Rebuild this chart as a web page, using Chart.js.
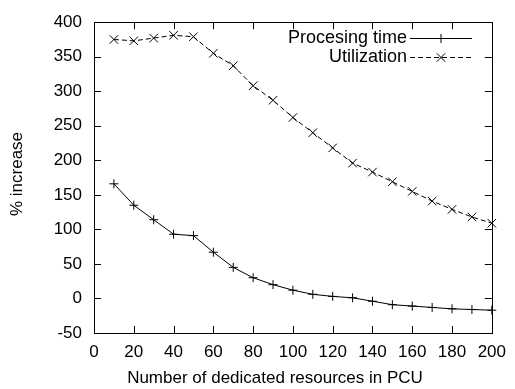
<!DOCTYPE html>
<html lang="en">
<head>
    <meta charset="UTF-8">
    <title>% increase vs dedicated resources in PCU</title>
    <style>
        body {
            margin: 0;
            padding: 0;
            background-color: #ffffff;
        }

        .chart-container {
            position: relative;
            width: 515px;
            height: 389px;
        }
    </style>
</head>
<body>

<div class="chart-container">
    <canvas id="pcuChart"></canvas>
</div>

<script src="https://cdn.jsdelivr.net/npm/chart.js"></script>

<script>
    // Datos
    const resources = [10, 20, 30, 40, 50, 60, 70, 80, 90, 100, 110, 120, 130, 140, 150, 160, 170, 180, 190, 200];
    const processingTime = [166, 135, 114, 93, 91, 67, 45, 30, 20, 12, 6, 3, 1, -4, -9, -11, -13, -15, -16, -17];
    const utilization = [375, 373, 377, 381, 379, 355, 337, 308, 287, 262, 240, 218, 196, 183, 169, 155, 141, 129, 118, 109];
    const seriesNames = ['Procesing time', 'Utilization'];
    const xTitle = 'Number of dedicated resources in PCU';
    const yTitle = '% increase';

    const FONT = 'Liberation Sans, Arial, Helvetica, sans-serif';
    const FONT_SIZE = 17;

    function toPoints(values) {
        return resources.map((x, i) => ({ x: x, y: values[i] }));
    }

    // Marco, ticks hacia dentro, leyenda y titulos al estilo gnuplot
    const gnuplotFrame = {
        id: 'gnuplotFrame',
        afterDraw(chart) {
            const ctx = chart.ctx;
            const area = chart.chartArea;
            const xs = chart.scales.x;
            const ys = chart.scales.y;
            const tick = 7;

            ctx.save();
            ctx.strokeStyle = '#000';
            ctx.lineWidth = 1;
            ctx.setLineDash([]);

            ctx.beginPath();
            xs.ticks.forEach(t => {
                const px = Math.round(xs.getPixelForValue(t.value)) + 0.5;
                ctx.moveTo(px, area.bottom);
                ctx.lineTo(px, area.bottom - tick);
                ctx.moveTo(px, area.top);
                ctx.lineTo(px, area.top + tick);
            });
            ys.ticks.forEach(t => {
                const py = Math.round(ys.getPixelForValue(t.value)) + 0.5;
                ctx.moveTo(area.left, py);
                ctx.lineTo(area.left + tick, py);
                ctx.moveTo(area.right, py);
                ctx.lineTo(area.right - tick, py);
            });
            ctx.stroke();

            ctx.strokeRect(Math.round(area.left) + 0.5, Math.round(area.top) + 0.5,
                Math.round(area.right - area.left), Math.round(area.bottom - area.top));

            // Leyenda
            ctx.font = '18px ' + FONT;
            ctx.fillStyle = '#000';
            ctx.textAlign = 'right';
            ctx.textBaseline = 'middle';
            const textRight = 407;
            const lineStart = 410;
            const lineEnd = 472;
            const rows = [38, 57];
            chart.data.datasets.forEach((ds, i) => {
                const y = rows[i] + 0.5;
                ctx.fillText(ds.label, textRight, rows[i]);
                ctx.setLineDash(ds.borderDash || []);
                ctx.beginPath();
                ctx.moveTo(lineStart, y);
                ctx.lineTo(lineEnd, y);
                ctx.stroke();
                ctx.setLineDash([]);
                Chart.helpers.drawPoint(ctx, {
                    pointStyle: ds.pointStyle,
                    radius: ds.pointRadius,
                    borderWidth: 1
                }, (lineStart + lineEnd) / 2, y);
            });

            // Titulos de los ejes
            ctx.font = FONT_SIZE + 'px ' + FONT;
            ctx.textAlign = 'center';
            ctx.fillText(xTitle, 275, 378);
            ctx.translate(17, 174);
            ctx.rotate(-Math.PI / 2);
            ctx.fillText(yTitle, 0, 0);
            ctx.restore();
        }
    };

    const ctx = document.getElementById('pcuChart').getContext('2d');
    const pcuChart = new Chart(ctx, {
        type: 'line',
        data: {
            datasets: [{
                label: seriesNames[0],
                data: toPoints(processingTime),
                borderColor: '#000',
                backgroundColor: '#000',
                borderWidth: 1,
                pointStyle: 'cross',
                pointRadius: 4.5,
                pointBorderWidth: 1,
                pointBorderColor: '#000',
                tension: 0,
                clip: false
            }, {
                label: seriesNames[1],
                data: toPoints(utilization),
                borderColor: '#000',
                backgroundColor: '#000',
                borderWidth: 1,
                borderDash: [5, 3],
                pointStyle: 'crossRot',
                pointRadius: 6,
                pointBorderWidth: 1,
                pointBorderColor: '#000',
                tension: 0,
                clip: false
            }]
        },
        options: {
            responsive: true,
            maintainAspectRatio: false,
            animation: false,
            layout: {
                padding: { top: 20, right: 21, left: 0, bottom: 0 }
            },
            plugins: {
                legend: { display: false },
                tooltip: { enabled: false }
            },
            scales: {
                x: {
                    type: 'linear',
                    min: 0,
                    max: 200,
                    grid: { display: false, drawTicks: false },
                    border: { display: false },
                    ticks: {
                        stepSize: 20,
                        padding: 9,
                        maxRotation: 0,
                        color: '#000',
                        font: { family: FONT, size: FONT_SIZE }
                    },
                    afterFit(scale) { scale.height = 56; }
                },
                y: {
                    min: -50,
                    max: 400,
                    grid: { display: false, drawTicks: false },
                    border: { display: false },
                    ticks: {
                        stepSize: 50,
                        padding: 12,
                        color: '#000',
                        font: { family: FONT, size: FONT_SIZE }
                    },
                    afterFit(scale) { scale.width = 94; }
                }
            }
        },
        plugins: [gnuplotFrame]
    });
</script>

</body>
</html>
